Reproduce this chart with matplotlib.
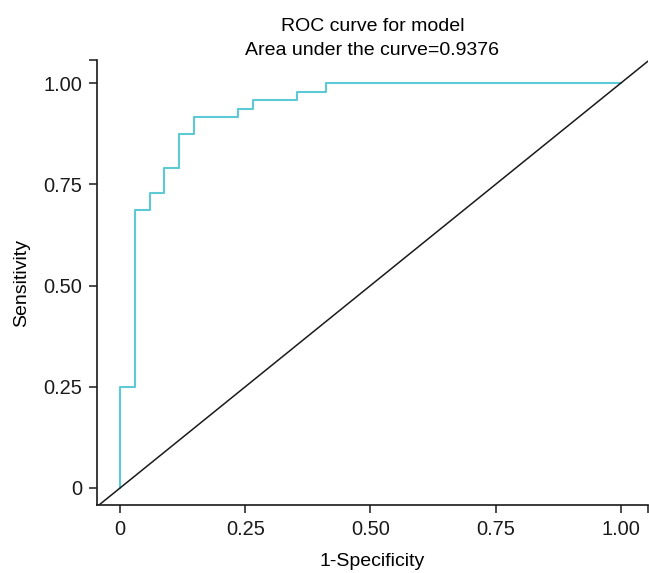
import matplotlib
matplotlib.use("Agg")
from matplotlib import pyplot as plt

# ROC step points (34 negatives, 48 positives)
fpr = [0, 0, 1/34, 1/34, 2/34, 2/34, 3/34, 3/34, 4/34, 4/34, 5/34, 5/34,
       8/34, 8/34, 9/34, 9/34, 12/34, 12/34, 14/34, 14/34, 1.0]
tpr = [0, 12/48, 12/48, 33/48, 33/48, 35/48, 35/48, 38/48, 38/48, 42/48, 42/48, 44/48,
       44/48, 45/48, 45/48, 46/48, 46/48, 47/48, 47/48, 1.0, 1.0]
ticks = [0, 0.25, 0.5, 0.75, 1.0]
tick_labels = ["0", "0.25", "0.50", "0.75", "1.00"]
auc = 0.9376

plt.rcParams["font.family"] = ["Liberation Sans", "DejaVu Sans"]

fig = plt.figure(figsize=(6.49, 5.73), dpi=100)
ax = fig.add_axes([0.1495, 0.1187, 0.8485, 0.7763])

ax.plot(fpr, tpr, color="#5cc9d4", lw=1.5)
ax.axline((0, 0), slope=1, color="#1a1a1a", lw=1.1)

xlim = (-0.046, 1.054)
ylim = (-0.042, 1.057)
ax.set_xlim(*xlim)
ax.set_ylim(*ylim)
ax.set_xticks(ticks)
ax.set_xticklabels(tick_labels)
ax.set_yticks(ticks)
ax.set_yticklabels(tick_labels)
# small marks at the far ends of the axes
ax.set_xticks([xlim[1]], minor=True)
ax.set_yticks([ylim[1]], minor=True)
ax.tick_params(which="both", direction="out", length=6, width=1.1,
               colors="#1a1a1a", labelsize=14.4)
ax.tick_params(axis="x", pad=5)
ax.tick_params(axis="y", pad=4.5)
for s in ["top", "right"]:
    ax.spines[s].set_visible(False)
for s in ["left", "bottom"]:
    ax.spines[s].set_linewidth(1.2)
    ax.spines[s].set_color("#1a1a1a")

ax.set_xlabel("1-Specificity", fontsize=14, labelpad=10)
ax.set_ylabel("Sensitivity", fontsize=14, labelpad=10)
ax.set_title("ROC curve for model\nArea under the curve={:.4f}".format(auc),
             fontsize=14, pad=4, linespacing=1.5)

fig.savefig("out.png", dpi=100)
